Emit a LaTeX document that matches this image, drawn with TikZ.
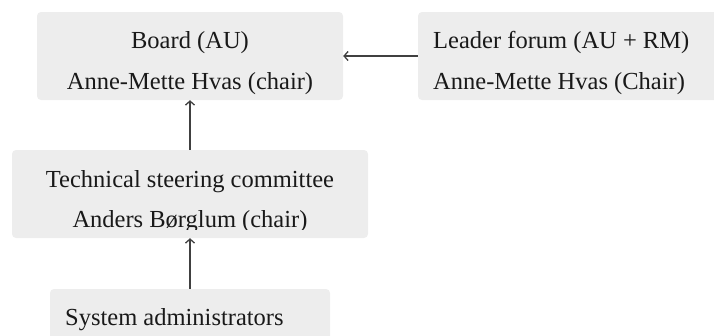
\documentclass[tikz,border=0pt]{standalone}
\usepackage{fontspec}
\setmainfont{Liberation Serif}
\usetikzlibrary{arrows.meta}

\definecolor{boxgray}{HTML}{EDEDED}
\definecolor{linegray}{HTML}{404040}

\tikzset{
	orgbox/.style={fill=boxgray, draw=none, rounded corners=4pt, inner sep=0pt, minimum height=88pt},
	orglabel/.style={inner sep=0pt, font=\fontsize{24.5}{29}\selectfont, text=black!90},
	orgarrow/.style={-{Straight Barb[length=4pt,width=9pt]}, line width=1.3pt, draw=linegray}
}

\begin{document}
\begin{tikzpicture}[x=1pt,y=-1pt]
	\path[use as bounding box, clip] (0,0) rectangle (714,335);

	%boxes
	\node[orgbox, minimum width=306pt] (board)  at (190,56)  {};
	\node[orgbox, minimum width=306pt] (forum)  at (571,56)  {};
	\node[orgbox, minimum width=356pt] (tsc)    at (190,194) {};
	\node[orgbox, minimum width=280pt] (sysadm) at (190,333) {};

	%labels
	\node[orglabel, anchor=base] (boardname)  at (190,48) {Board (AU)};
	\node[orglabel, anchor=base] (boardchair) at (190,89) {Anne-Mette Hvas (chair)};
	%
	\node[orglabel, anchor=base west] (forumname)  at (433,48) {Leader forum (AU + RM)};
	\node[orglabel, anchor=base west] (forumchair) at (433,89) {Anne-Mette Hvas (Chair)};
	%
	\node[orglabel, anchor=base] (tscname) at (190,187) {Technical steering committee};
	\begin{scope}
		\clip (0,150) rectangle (714,229);	%descenders cut off
		\node[orglabel, anchor=base] (tscchair) at (190,227) {Anders Børglum (chair)};
	\end{scope}
	%
	\node[orglabel, anchor=base west] (sysadmname) at (65,325) {System administrators};

	%arrows
	\draw[orgarrow] (forum.west) -- (board.east);
	\draw[orgarrow] (tsc.north) -- (board.south);
	\draw[orgarrow] (sysadm.north) -- (tsc.south);
\end{tikzpicture}
\end{document}
